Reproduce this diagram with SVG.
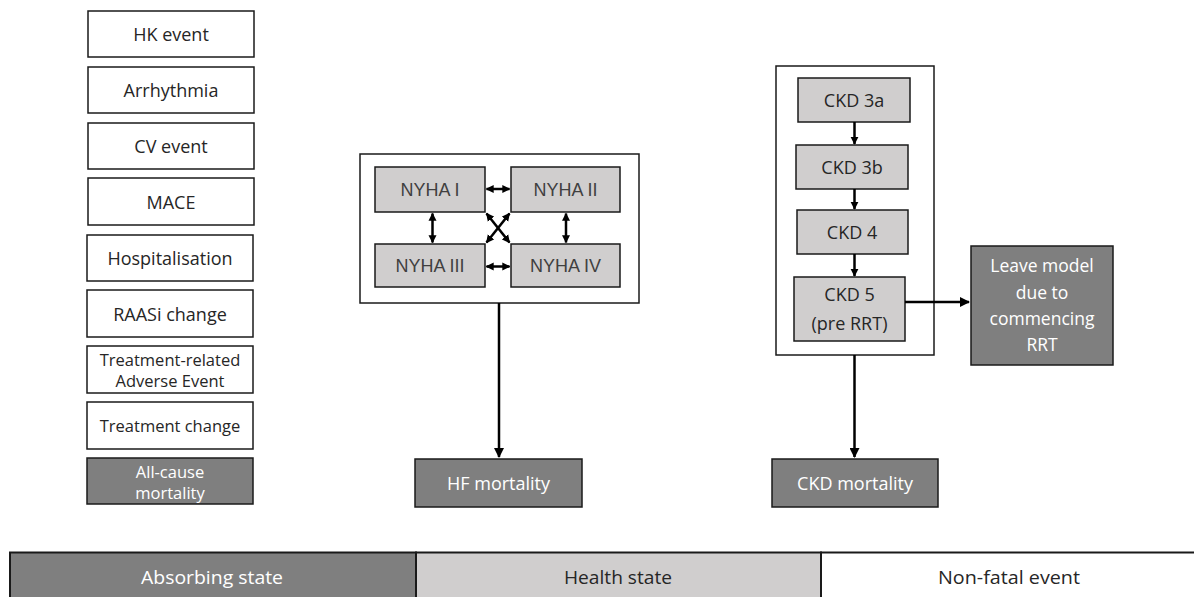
<svg xmlns="http://www.w3.org/2000/svg" width="1194" height="597" viewBox="0 0 1194 597">
<defs>
<style>
.ev{fill:#fff;stroke:#1a1a1a;stroke-width:1.5}
.hs{fill:#d0cece;stroke:#1a1a1a;stroke-width:1.5}
.ab{fill:#7f7f7f;stroke:#1a1a1a;stroke-width:1.5}
.t{font-family:"Open Sans","DejaVu Sans",sans-serif;font-size:18px;fill:#262626;text-anchor:middle;dominant-baseline:central}
.tw{font-family:"Open Sans","DejaVu Sans",sans-serif;font-size:18px;fill:#fff;text-anchor:middle;dominant-baseline:central}
.ny{font-family:"Liberation Sans",Arial,sans-serif;font-size:18px;fill:#404040;text-anchor:middle;dominant-baseline:central}
.c{stroke:#000;stroke-width:2.5;fill:none}
.cs{stroke:#000;stroke-width:2.5;fill:none}
</style>
<marker id="ah" viewBox="0 0 10 10" refX="9" refY="5" markerWidth="4" markerHeight="4" orient="auto-start-reverse" markerUnits="strokeWidth">
<path d="M0,0 L10,5 L0,10 z" fill="#000"/>
</marker>
<marker id="as" viewBox="0 0 10 10" refX="9" refY="5" markerWidth="3.2" markerHeight="3.6" orient="auto-start-reverse" markerUnits="strokeWidth">
<path d="M0,0 L10,5 L0,10 z" fill="#000"/>
</marker>
</defs>
<rect width="1194" height="597" fill="#fff"/>

<g id="hk-event"><rect class="ev" x="88" y="11" width="166" height="46"/><text class="t" x="171" y="34">HK event</text></g>
<g id="arrhythmia"><rect class="ev" x="88" y="67" width="166" height="46"/><text class="t" x="171" y="90">Arrhythmia</text></g>
<g id="cv-event"><rect class="ev" x="88" y="123" width="166" height="46"/><text class="t" x="171" y="146">CV event</text></g>
<g id="mace"><rect class="ev" x="88" y="178" width="166" height="47"/><text class="t" x="171" y="201.5">MACE</text></g>
<g id="hospitalisation"><rect class="ev" x="87" y="235" width="166" height="46"/><text class="t" x="170" y="258">Hospitalisation</text></g>
<g id="raasi-change"><rect class="ev" x="87" y="290" width="166" height="47"/><text class="t" x="170" y="313.5">RAASi change</text></g>
<g id="trae"><rect class="ev" x="87" y="346" width="166" height="47"/><text class="t" x="170" y="359" style="font-size:16.5px">Treatment-related</text><text class="t" x="170" y="380" style="font-size:16.5px">Adverse Event</text></g>
<g id="treatment-change"><rect class="ev" x="87" y="402" width="166" height="47"/><text class="t" x="170" y="425.5" style="font-size:16.5px">Treatment change</text></g>
<g id="all-cause-mortality"><rect class="ab" x="87" y="458" width="166" height="46"/><text class="tw" x="170" y="471" style="font-size:16.5px">All-cause</text><text class="tw" x="170" y="492" style="font-size:16.5px">mortality</text></g>

<g id="nyha-container"><rect class="ev" x="360" y="154" width="279" height="149"/></g>
<g id="nyha-1"><rect class="hs" x="375" y="167" width="110" height="45"/><text class="ny" x="430" y="189.5">NYHA I</text></g>
<g id="nyha-2"><rect class="hs" x="511" y="167" width="109" height="45"/><text class="ny" x="565.5" y="189.5">NYHA II</text></g>
<g id="nyha-3"><rect class="hs" x="375" y="244" width="110" height="43"/><text class="ny" x="430" y="266">NYHA III</text></g>
<g id="nyha-4"><rect class="hs" x="511" y="244" width="109" height="43"/><text class="ny" x="565.5" y="266">NYHA IV</text></g>

<g id="ckd-container"><rect class="ev" x="776" y="66" width="158" height="289"/></g>
<g id="ckd-3a"><rect class="hs" x="798" y="78" width="112" height="44"/><text class="t" x="854" y="100">CKD 3a</text></g>
<g id="ckd-3b"><rect class="hs" x="796" y="145" width="112" height="44"/><text class="t" x="852" y="167">CKD 3b</text></g>
<g id="ckd-4"><rect class="hs" x="797" y="210" width="111" height="44"/><text class="t" x="852" y="232">CKD 4</text></g>
<g id="ckd-5"><rect class="hs" x="794" y="277" width="111" height="64"/><text class="t" x="849.5" y="294">CKD 5</text><text class="t" x="849.5" y="323">(pre RRT)</text></g>

<g id="leave-model"><rect class="ab" x="971" y="246" width="142" height="119"/><text class="tw" x="1042" y="265" style="font-size:17.5px">Leave model</text><text class="tw" x="1042" y="292" style="font-size:17.5px">due to</text><text class="tw" x="1042" y="318" style="font-size:17.5px">commencing</text><text class="tw" x="1042" y="344" style="font-size:17.5px">RRT</text></g>

<g id="hf-mortality"><rect class="ab" x="415" y="459" width="167" height="48"/><text class="tw" x="498.5" y="483">HF mortality</text></g>
<g id="ckd-mortality"><rect class="ab" x="772" y="459" width="166" height="48"/><text class="tw" x="855" y="483">CKD mortality</text></g>

<g id="connectors">
<line class="cs" x1="486.5" y1="189" x2="509.5" y2="189" marker-start="url(#as)" marker-end="url(#as)"/>
<line class="cs" x1="486.5" y1="266.5" x2="509.5" y2="266.5" marker-start="url(#as)" marker-end="url(#as)"/>
<line class="cs" x1="432.5" y1="213.5" x2="432.5" y2="242.5" marker-start="url(#as)" marker-end="url(#as)"/>
<line class="cs" x1="566" y1="213.5" x2="566" y2="242.5" marker-start="url(#as)" marker-end="url(#as)"/>
<line class="cs" x1="486.5" y1="213.5" x2="509.5" y2="242.5" marker-start="url(#as)" marker-end="url(#as)"/>
<line class="cs" x1="509.5" y1="213.5" x2="486.5" y2="242.5" marker-start="url(#as)" marker-end="url(#as)"/>
<line class="cs" x1="854.5" y1="122" x2="854.5" y2="144" marker-end="url(#as)"/>
<line class="cs" x1="854.5" y1="189" x2="854.5" y2="209" marker-end="url(#as)"/>
<line class="cs" x1="854.5" y1="254" x2="854.5" y2="276" marker-end="url(#as)"/>
<line class="c" x1="905" y1="302" x2="969" y2="302" marker-end="url(#ah)"/>
<line class="c" x1="499" y1="303" x2="499" y2="457" marker-end="url(#ah)"/>
<line class="c" x1="854.5" y1="355" x2="854.5" y2="457" marker-end="url(#ah)"/>
</g>

<g id="legend">
<rect x="10" y="552.5" width="406" height="60" fill="#7f7f7f" stroke="#1a1a1a" stroke-width="2"/>
<rect x="416" y="552.5" width="405" height="60" fill="#d0cece" stroke="#1a1a1a" stroke-width="2"/>
<rect x="821" y="552.5" width="400" height="60" fill="#fff" stroke="#1a1a1a" stroke-width="2"/>
<text class="tw" x="212" y="577" textLength="142" lengthAdjust="spacingAndGlyphs">Absorbing state</text>
<text class="t" x="618" y="577" textLength="108" lengthAdjust="spacingAndGlyphs">Health state</text>
<text class="t" x="1009" y="577" textLength="142" lengthAdjust="spacingAndGlyphs">Non-fatal event</text>
</g>
</svg>
